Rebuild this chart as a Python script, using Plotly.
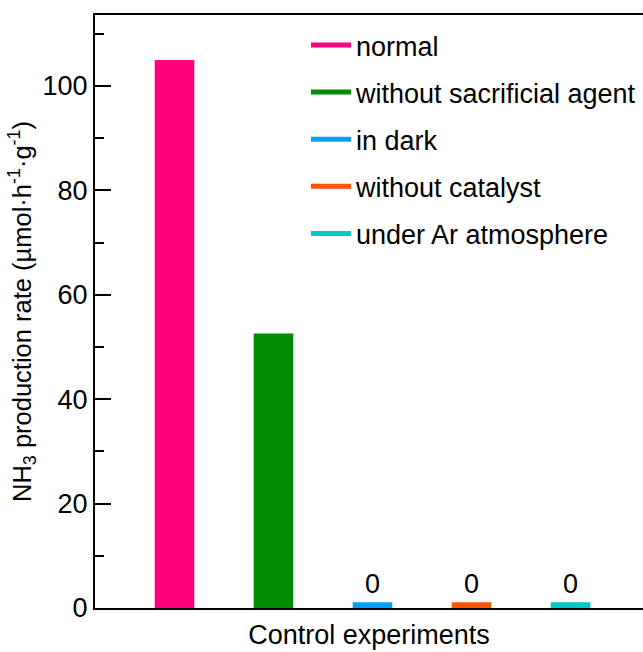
import plotly.graph_objects as go

# Control experiments for photocatalytic NH3 production
conditions = ["normal", "without sacrificial agent", "in dark",
              "without catalyst", "under Ar atmosphere"]
rates = [105.0, 52.6, 0.0, 0.0, 0.0]  # µmol·h⁻¹·g⁻¹
colors = ["#FF007F", "#008C00", "#00A0FF", "#FF5500", "#00C8C8"]
positions = [1, 2, 3, 4, 5]

# zero results are drawn as a thin visible stub so the bar position stays readable
stub = 1.1
shown = [max(r, stub) for r in rates]
labels = ["0" if r == 0 else "" for r in rates]

FONT = "Arial, Liberation Sans, sans-serif"
FS = 27

fig = go.Figure()
fig.add_trace(go.Bar(
    x=positions, y=shown, width=0.4,
    marker=dict(color=colors, line=dict(width=0)),
    text=labels, textposition="outside", cliponaxis=False,
    textfont=dict(family=FONT, size=FS, color="black"),
    showlegend=False, hoverinfo="skip",
))

# line-style legend keys, one per condition
for name, c in zip(conditions, colors):
    fig.add_trace(go.Scatter(
        x=[None], y=[None], mode="lines", name=name, legendgroup=name,
        line=dict(color=c, width=5),
    ))

fig.update_layout(
    width=643, height=652,
    margin=dict(l=95, r=0, t=15, b=44),
    plot_bgcolor="white", paper_bgcolor="white",
    font=dict(family=FONT, size=FS, color="black"),
    legend=dict(
        x=0.385, y=0.99, xanchor="left", yanchor="top",
        font=dict(family=FONT, size=FS, color="black"),
        bgcolor="rgba(0,0,0,0)", tracegroupgap=9,
        itemwidth=40,
    ),
    xaxis=dict(
        range=[0.197, 5.732], showticklabels=False, ticks="",
        showgrid=False, zeroline=False,
        showline=True, linecolor="black", linewidth=2, mirror=True,
        title=dict(text="Control experiments", standoff=16,
                   font=dict(family=FONT, size=FS)),
    ),
    yaxis=dict(
        range=[0, 113.6], dtick=20, tick0=0,
        ticks="inside", ticklen=16, tickwidth=2, tickcolor="black",
        minor=dict(dtick=10, tick0=0, ticks="inside", ticklen=9,
                   tickwidth=2, tickcolor="black", showgrid=False),
        showgrid=False, zeroline=False,
        showline=True, linecolor="black", linewidth=2,
        tickfont=dict(family=FONT, size=FS),
        title=dict(text="NH<sub>3</sub> production rate (µmol·h<sup>-1</sup>·g<sup>-1</sup>)",
                   standoff=4, font=dict(family=FONT, size=25.5)),
    ),
)

fig.write_html("out.html")
